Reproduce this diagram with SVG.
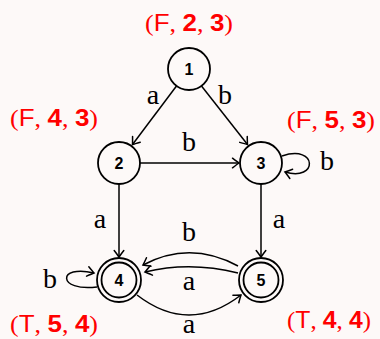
<svg xmlns="http://www.w3.org/2000/svg" width="380" height="339" viewBox="0 0 380 339">
<defs>
<marker id="arr" viewBox="-8 -6 10 12" refX="0" refY="0" markerWidth="10" markerHeight="12" markerUnits="userSpaceOnUse" orient="auto">
<path d="M-6.5,-4.8 Q-1.8,-1.2 0,0 Q-1.8,1.2 -6.5,4.8" fill="none" stroke="#000" stroke-width="1.5" stroke-linecap="round"/>
</marker>
<style>
.st{fill:none;stroke:#000;stroke-width:1.8}
.num{font-family:"Liberation Sans",Arial,sans-serif;font-weight:bold;font-size:16px;text-anchor:middle;fill:#000}
.e{fill:none;stroke:#000;stroke-width:1.5;marker-end:url(#arr)}
.el{font-family:"Liberation Serif","Times New Roman",serif;font-size:28px;text-anchor:middle;fill:#000}
.lab{font-family:"Liberation Sans",Arial,sans-serif;font-size:24px;fill:#ff0000;text-anchor:middle}
.p{font-family:"Liberation Serif","Times New Roman",serif;font-weight:normal}
.b{font-weight:bold}
</style>
</defs>
<rect width="380" height="339" fill="#fdf9f8"/>
<g id="connectors">
<path class="e" d="M176.5,86 L132.5,144.5"/>
<path class="e" d="M201.5,86 L247.5,144.5"/>
<path class="e" d="M140,163 L239,163"/>
<path class="e" d="M119,184 L119,257"/>
<path class="e" d="M261,184 L261,257"/>
<path class="e" d="M238,266 Q190,240 143,265"/>
<path class="e" d="M238,273 Q190,261 145,272"/>
<path class="e" d="M137,295 Q189,335 241,295"/>
<path class="e" d="M282,156 C318,144 318,182 285,172"/>
<path class="e" d="M97,287 C57,292 57,264 94,273"/>
<text class="el" x="153" y="104">a</text>
<text class="el" x="225" y="104">b</text>
<text class="el" x="189" y="151">b</text>
<text class="el" x="327" y="170">b</text>
<text class="el" x="100" y="228">a</text>
<text class="el" x="279" y="228">a</text>
<text class="el" x="189" y="241">b</text>
<text class="el" x="189" y="290">a</text>
<text class="el" x="50" y="288">b</text>
<text class="el" x="189" y="333">a</text>
</g>
<g id="node1">
<circle class="st" cx="189" cy="69" r="21"/>
<text class="num" x="189" y="75">1</text>
<text class="lab" x="189" y="31" textLength="88" lengthAdjust="spacingAndGlyphs"><tspan class="p">(</tspan>F<tspan class="p">, </tspan><tspan class="b">2</tspan><tspan class="p">, </tspan><tspan class="b">3</tspan><tspan class="p">)</tspan></text>
</g>
<g id="node2">
<circle class="st" cx="119" cy="163" r="21"/>
<text class="num" x="119" y="169">2</text>
<text class="lab" x="54" y="126" textLength="88" lengthAdjust="spacingAndGlyphs"><tspan class="p">(</tspan>F<tspan class="p">, </tspan><tspan class="b">4</tspan><tspan class="p">, </tspan><tspan class="b">3</tspan><tspan class="p">)</tspan></text>
</g>
<g id="node3">
<circle class="st" cx="261" cy="163" r="21"/>
<text class="num" x="261" y="169">3</text>
<text class="lab" x="331" y="128" textLength="88" lengthAdjust="spacingAndGlyphs"><tspan class="p">(</tspan>F<tspan class="p">, </tspan><tspan class="b">5</tspan><tspan class="p">, </tspan><tspan class="b">3</tspan><tspan class="p">)</tspan></text>
</g>
<g id="node4">
<circle class="st" cx="119" cy="280" r="22"/>
<circle class="st" cx="119" cy="280" r="17.5"/>
<text class="num" x="119" y="286">4</text>
<text class="lab" x="54" y="332" textLength="88" lengthAdjust="spacingAndGlyphs"><tspan class="p">(</tspan>T<tspan class="p">, </tspan><tspan class="b">5</tspan><tspan class="p">, </tspan><tspan class="b">4</tspan><tspan class="p">)</tspan></text>
</g>
<g id="node5">
<circle class="st" cx="261" cy="280" r="22"/>
<circle class="st" cx="261" cy="280" r="17.5"/>
<text class="num" x="261" y="286">5</text>
<text class="lab" x="329" y="328" textLength="84" lengthAdjust="spacingAndGlyphs"><tspan class="p">(</tspan>T<tspan class="p">, </tspan><tspan class="b">4</tspan><tspan class="p">, </tspan><tspan class="b">4</tspan><tspan class="p">)</tspan></text>
</g>
</svg>
